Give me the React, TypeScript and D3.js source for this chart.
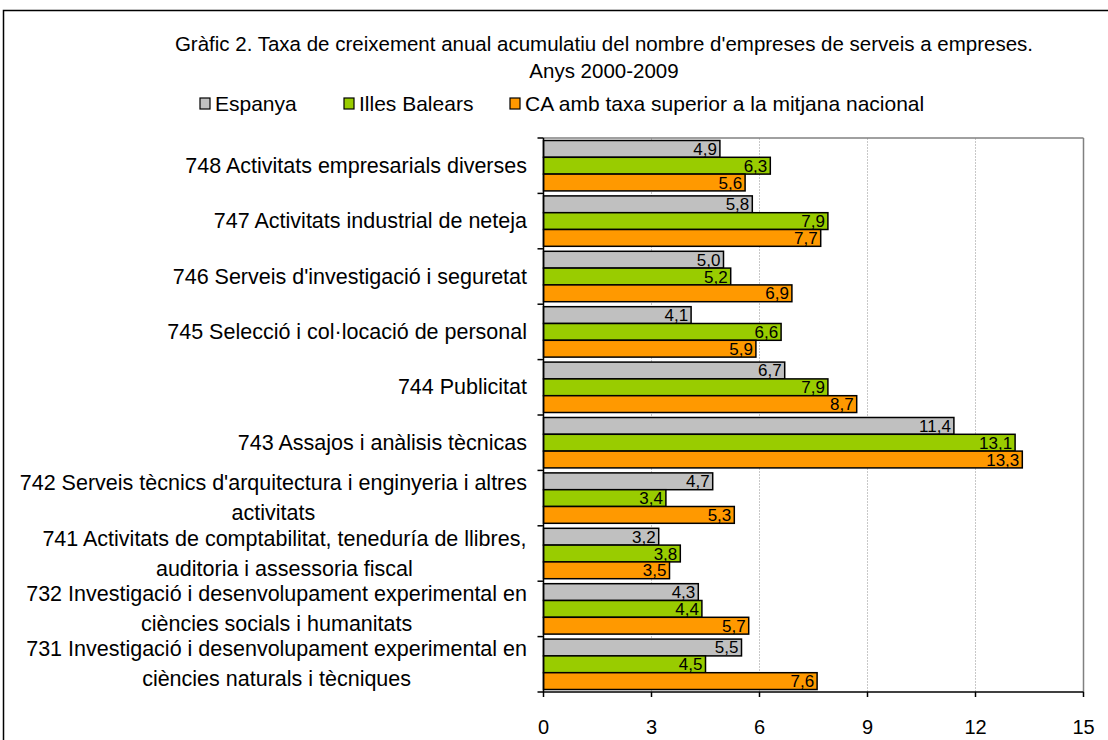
import React from "react";
import * as d3 from "d3";

const title1 = "Gràfic 2. Taxa de creixement anual acumulatiu del nombre d'empreses de serveis a empreses.";
const title2 = "Anys 2000-2009";

const seriesNames = ["Espanya", "Illes Balears", "CA amb taxa superior a la mitjana nacional"];
const seriesColors = ["#C0C0C0", "#99CC00", "#FF9900"];

const categories = [
  ["748 Activitats empresarials diverses"],
  ["747 Activitats industrial de neteja"],
  ["746 Serveis d'investigació i seguretat"],
  ["745 Selecció i col·locació de personal"],
  ["744 Publicitat"],
  ["743 Assajos i anàlisis tècnicas"],
  ["742 Serveis tècnics d'arquitectura i enginyeria i altres", "activitats"],
  ["741 Activitats de comptabilitat, teneduría de llibres,", "auditoria i assessoria fiscal"],
  ["732 Investigació i desenvolupament experimental en", "ciències socials i humanitats"],
  ["731 Investigació i desenvolupament experimental en", "ciències naturals i tècniques"],
];

const espanya = [4.9, 5.8, 5.0, 4.1, 6.7, 11.4, 4.7, 3.2, 4.3, 5.5];
const balears = [6.3, 7.9, 5.2, 6.6, 7.9, 13.1, 3.4, 3.8, 4.4, 4.5];
const caSuperior = [5.6, 7.7, 6.9, 5.9, 8.7, 13.3, 5.3, 3.5, 5.7, 7.6];

const xTicks = [0, 3, 6, 9, 12, 15];

const FONT = "'Liberation Sans', Arial, sans-serif";
const LABEL_SIZE = 21.5;

function measure(text: string, size: number): number {
  const c = document.createElement("canvas");
  const ctx = c.getContext("2d");
  if (!ctx) return text.length * size * 0.5;
  ctx.font = `${size}px 'Liberation Sans'`;
  return ctx.measureText(text).width;
}

export default function App() {
  const W = 1108;
  const H = 740;
  const left = 543.5;
  const right = 1083.5;
  const top = 138;
  const bottom = 692;

  const x = d3.scaleLinear().domain([0, 15]).range([left, right]);
  const ids = categories.map((_, i) => String(i));
  const y = d3.scaleBand().domain(ids).range([top, bottom]).paddingInner(0.09).paddingOuter(0.045);
  const sub = d3.scaleBand().domain(["0", "1", "2"]).range([0, y.bandwidth()]);
  const step = y.step();
  const series = [espanya, balears, caSuperior];
  const labelRight = 527;

  return (
    <svg width={W} height={H} style={{ display: "block", position: "absolute", left: 0, top: 0 }} fontFamily={FONT}>
      <rect x={0} y={0} width={W} height={H} fill="#fff" />
      <rect x={3.5} y={10.5} width={W + 20} height={H + 20} fill="none" stroke="#000" strokeWidth={1.5} />
      <text x={604} y={51} textAnchor="middle" fontSize={20.5}>{title1}</text>
      <text x={604} y={78} textAnchor="middle" fontSize={20.5}>{title2}</text>

      {/* legend */}
      {seriesNames.map((n, i) => {
        const lx = [200, 344, 510][i];
        return (
          <g key={n}>
            <rect x={lx} y={98} width={10} height={11} fill={seriesColors[i]} stroke="#000" strokeWidth={1.2} />
            <text x={lx + 15} y={111} fontSize={21}>{n}</text>
          </g>
        );
      })}

      {/* gridlines */}
      {xTicks.slice(1, -1).map((t) => (
        <line key={t} x1={x(t)} x2={x(t)} y1={top} y2={bottom} stroke="#c8c8c8" strokeWidth={1} strokeDasharray="2,1" />
      ))}
      {/* plot border */}
      <line x1={left} x2={right} y1={top} y2={top} stroke="#808080" strokeWidth={1.5} />
      <line x1={right} x2={right} y1={top} y2={bottom} stroke="#808080" strokeWidth={1.5} />

      {/* bars */}
      {categories.map((_, ci) =>
        series.map((s, si) => {
          const yy = (y(String(ci)) as number) + (sub(String(si)) as number);
          const h = sub.bandwidth();
          const v = s[ci];
          return (
            <g key={`${ci}-${si}`}>
              <rect x={x(0)} y={yy} width={x(v) - x(0)} height={h} fill={seriesColors[si]} stroke="#000" strokeWidth={1.5} />
              <text x={x(v) - 3} y={yy + h / 2 + 6} textAnchor="end" fontSize={17} fill="#000">
                {v.toFixed(1).replace(".", ",")}
              </text>
            </g>
          );
        })
      )}

      {/* axes */}
      <line x1={left} x2={left} y1={top} y2={bottom} stroke="#000" strokeWidth={1.5} />
      <line x1={left} x2={right} y1={bottom} y2={bottom} stroke="#000" strokeWidth={1.5} />
      {d3.range(categories.length + 1).map((i) => (
        <line key={i} x1={left - 6} x2={left} y1={top + i * step} y2={top + i * step} stroke="#000" strokeWidth={1.5} />
      ))}
      {xTicks.map((t) => (
        <g key={t}>
          <line x1={x(t)} x2={x(t)} y1={bottom} y2={bottom + 5} stroke="#000" strokeWidth={1.5} />
          <text x={x(t)} y={734} textAnchor="middle" fontSize={20}>{t}</text>
        </g>
      ))}

      {/* category labels */}
      {categories.map((lines, ci) => {
        const cy = (y(String(ci)) as number) + y.bandwidth() / 2;
        if (lines.length === 1) {
          return (
            <text key={ci} x={labelRight} y={cy + 7} textAnchor="end" fontSize={LABEL_SIZE}>{lines[0]}</text>
          );
        }
        const maxW = Math.max(...lines.map((l) => measure(l, LABEL_SIZE)));
        const cx = labelRight - maxW / 2;
        const lh = 30;
        return (
          <g key={ci}>
            {lines.map((l, li) => (
              <text key={li} x={cx} y={cy + 7 + (li - (lines.length - 1) / 2) * lh} textAnchor="middle" fontSize={LABEL_SIZE}>{l}</text>
            ))}
          </g>
        );
      })}
    </svg>
  );
}
